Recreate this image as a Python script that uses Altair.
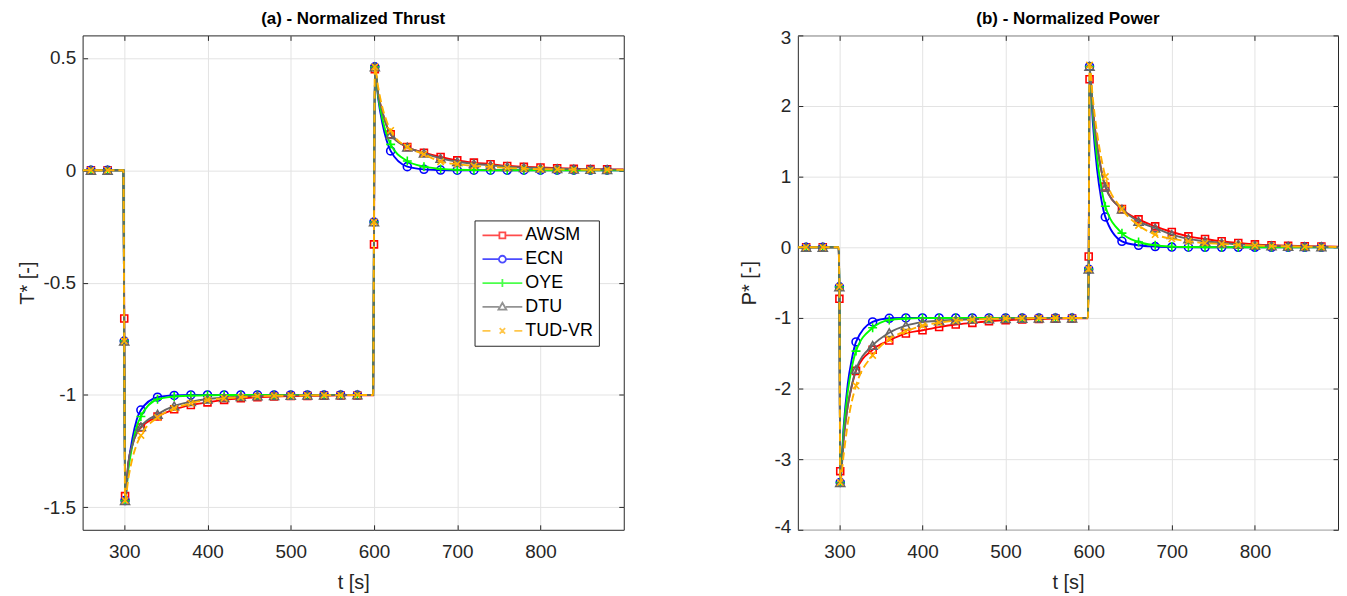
import altair as alt
import pandas as pd

MODELS = ["AWSM", "ECN", "OYE", "DTU", "TUD-VR"]
COLORS = ["#ff0000", "#0000ff", "#00ff00", "#666666", "#ffb000"]

T = [250, 260, 280, 299,
     300, 301, 305, 310, 315,
     320, 340, 360, 380, 400, 420, 440, 460, 480, 500, 520, 540, 560, 580,
     599, 600, 601, 605, 610, 615,
     620, 640, 660, 680, 700, 720, 740, 760, 780, 800, 820, 840, 860, 880, 900]

MARKER_T = [260, 280, 300, 301,
            320, 340, 360, 380, 400, 420, 440, 460, 480, 500, 520, 540, 560, 580,
            600, 601,
            620, 640, 660, 680, 700, 720, 740, 760, 780, 800, 820, 840, 860, 880]

THRUST_AWSM = [0, 0, 0, 0,
               -0.66, -1.45, -1.30, -1.22, -1.17,
               -1.145, -1.096, -1.064, -1.045, -1.033, -1.022, -1.015, -1.010, -1.007, -1.005, -1.004, -1.003, -1.002, -1.002,
               -1.002, -0.33, 0.45, 0.34, 0.26, 0.20,
               0.160, 0.103, 0.078, 0.059, 0.044, 0.034, 0.027, 0.019, 0.015, 0.012, 0.009, 0.007, 0.005, 0.004, 0.003]
THRUST_ECN = [0, 0, 0, 0,
              -0.76, -1.47, -1.31, -1.19, -1.11,
              -1.067, -1.010, -1.002, -1.0, -1.0, -1.0, -1.0, -1.0, -1.0, -1.0, -1.0, -1.0, -1.0, -1.0,
              -1.0, -0.23, 0.46, 0.32, 0.21, 0.135,
              0.086, 0.016, 0.004, 0.001, 0, 0, 0, 0, 0, 0, 0, 0, 0, 0, 0]
THRUST_OYE = [0, 0, 0, 0,
              -0.76, -1.47, -1.33, -1.22, -1.14,
              -1.096, -1.019, -1.007, -1.003, -1.001, -1.0, -1.0, -1.0, -1.0, -1.0, -1.0, -1.0, -1.0, -1.0,
              -1.0, -0.23, 0.46, 0.33, 0.23, 0.16,
              0.115, 0.041, 0.016, 0.006, 0.002, 0.001, 0, 0, 0, 0, 0, 0, 0, 0, 0]
THRUST_DTU = [0, 0, 0, 0,
              -0.76, -1.47, -1.30, -1.22, -1.17,
              -1.141, -1.086, -1.049, -1.030, -1.018, -1.012, -1.007, -1.004, -1.003, -1.002, -1.001, -1.001, -1.0, -1.0,
              -1.0, -0.23, 0.46, 0.34, 0.26, 0.20,
              0.159, 0.103, 0.076, 0.053, 0.038, 0.029, 0.022, 0.016, 0.012, 0.009, 0.007, 0.005, 0.004, 0.003, 0.002]
THRUST_TUD = [0, 0, 0, 0,
              -0.76, -1.47, -1.37, -1.28, -1.22,
              -1.18, -1.10, -1.06, -1.037, -1.022, -1.015, -1.010, -1.006, -1.004, -1.003, -1.002, -1.001, -1.001, -1.0,
              -1.0, -0.23, 0.46, 0.37, 0.28, 0.22,
              0.177, 0.103, 0.071, 0.038, 0.027, 0.019, 0.015, 0.010, 0.007, 0.005, 0.004, 0.003, 0.002, 0.002, 0.001]

POWER_AWSM = [0, 0, 0, 0,
              -0.73, -3.17, -2.70, -2.25, -1.96,
              -1.75, -1.45, -1.32, -1.22, -1.175, -1.13, -1.094, -1.07, -1.047, -1.033, -1.022, -1.015, -1.010, -1.007,
              -1.005, -0.13, 2.38, 1.95, 1.45, 1.10,
              0.86, 0.54, 0.395, 0.296, 0.216, 0.155, 0.118, 0.085, 0.060, 0.042, 0.030, 0.022, 0.016, 0.012, 0.009]
POWER_ECN = [0, 0, 0, 0,
             -0.56, -3.33, -2.56, -1.94, -1.58,
             -1.34, -1.057, -1.005, -1.0, -1.0, -1.0, -1.0, -1.0, -1.0, -1.0, -1.0, -1.0, -1.0, -1.0,
             -1.0, -0.31, 2.56, 1.76, 1.11, 0.69,
             0.43, 0.085, 0.028, 0.010, 0.003, 0.001, 0, 0, 0, 0, 0, 0, 0, 0, 0]
POWER_OYE = [0, 0, 0, 0,
             -0.56, -3.33, -2.62, -2.05, -1.70,
             -1.47, -1.14, -1.03, -1.01, -1.003, -1.001, -1.0, -1.0, -1.0, -1.0, -1.0, -1.0, -1.0, -1.0,
             -1.0, -0.31, 2.56, 1.88, 1.27, 0.86,
             0.58, 0.20, 0.075, 0.028, 0.010, 0.004, 0.001, 0, 0, 0, 0, 0, 0, 0, 0]
POWER_DTU = [0, 0, 0, 0,
             -0.56, -3.33, -2.75, -2.25, -1.95,
             -1.73, -1.39, -1.21, -1.11, -1.06, -1.04, -1.028, -1.018, -1.012, -1.008, -1.005, -1.003, -1.002, -1.001,
             -1.0, -0.31, 2.56, 1.95, 1.45, 1.10,
             0.85, 0.54, 0.367, 0.273, 0.180, 0.120, 0.085, 0.060, 0.042, 0.028, 0.020, 0.014, 0.010, 0.007, 0.005]
POWER_TUD = [0, 0, 0, 0,
             -0.56, -3.33, -2.95, -2.50, -2.18,
             -1.96, -1.53, -1.30, -1.19, -1.11, -1.066, -1.04, -1.025, -1.015, -1.010, -1.006, -1.004, -1.002, -1.001,
             -1.0, -0.31, 2.58, 2.10, 1.62, 1.27,
             1.00, 0.54, 0.31, 0.18, 0.12, 0.085, 0.060, 0.047, 0.033, 0.024, 0.017, 0.012, 0.008, 0.006, 0.004]

THRUST = dict(zip(MODELS, [THRUST_AWSM, THRUST_ECN, THRUST_OYE, THRUST_DTU, THRUST_TUD]))
POWER = dict(zip(MODELS, [POWER_AWSM, POWER_ECN, POWER_OYE, POWER_DTU, POWER_TUD]))

X_TICKS = [300, 400, 500, 600, 700, 800]
THRUST_TICKS = [-1.5, -1, -0.5, 0, 0.5]
POWER_TICKS = [-4, -3, -2, -1, 0, 1, 2, 3]

FONT = "Liberation Sans"
INK = "#262626"
GRID = "#e3e3e3"

MARK_SHAPES = {
    "AWSM": ("square", 49),
    "ECN": ("circle", 64),
    "OYE": ("M-1,0L1,0M0,-1L0,1", 81),
    "DTU": ("triangle-up", 80),
    "TUD-VR": ("M-1,-1L1,1M-1,1L1,-1", 42),
}

LEGEND_PATHS = [
    "M-4,0L-0.6,0M0.6,0L4,0M-0.6,-0.6L0.6,-0.6L0.6,0.6L-0.6,0.6Z",
    "M-4,0L-0.7,0M0.7,0L4,0M-0.7,0A0.7,0.7,0,1,0,0.7,0A0.7,0.7,0,1,0,-0.7,0",
    "M-4,0L4,0M0,-0.8L0,0.8",
    "M-4,0L-0.7,0M0.7,0L4,0M0,-0.85L0.8,0.55L-0.8,0.55Z",
    "M-4,0L-2.4,0M2.4,0L4,0M-0.55,-0.55L0.55,0.55M-0.55,0.55L0.55,-0.55",
]

rows = []
for panel, series in (("thrust", THRUST), ("power", POWER)):
    for m in MODELS:
        for t, v in zip(T, series[m]):
            rows.append({"panel": panel, "model": m, "t": t, "v": v, "marker": t in MARKER_T})
df = pd.DataFrame(rows)

color_scale = alt.Scale(domain=MODELS, range=COLORS)
shape_scale = alt.Scale(domain=MODELS, range=LEGEND_PATHS)
x_scale = alt.Scale(domain=[250, 900], nice=False, zero=False)

legend = alt.Legend(
    title=None, orient="none", legendX=394, legendY=186,
    labelFontSize=18, labelFont=FONT, labelColor="black",
    symbolSize=100, symbolStrokeWidth=1.8, symbolOffset=13, labelOffset=14,
    rowPadding=6, padding=6, strokeColor=INK, fillColor="white",
    symbolFillColor="transparent",
)


def label_axis(axis_title, values, orient, is_y, title_pad=11, flush=False):
    kw = dict(values=values, title=axis_title, grid=True, gridColor=GRID, gridWidth=1,
              domain=False, ticks=True, tickSize=5, offset=-5, tickColor=INK, tickWidth=1,
              labelFont=FONT, labelFontSize=19, labelColor=INK, titleFont=FONT, titleFontSize=20,
              titleFontWeight="normal", titleColor=INK, labelExpr="datum.value + ''", orient=orient,
              titlePadding=title_pad)
    if is_y:
        kw.update(labelPadding=7)
    else:
        kw.update(labelPadding=13)
    if flush:
        kw.update(labelFlush=True, labelFlushOffset=7)
    return alt.Axis(**kw)


def tick_axis(values, orient):
    return alt.Axis(values=values, title=None, grid=False, domain=False, labels=False, ticks=True,
                    tickSize=5, offset=-5, tickColor=INK, tickWidth=1, orient=orient)


def panel(name, series_title, y_title, y_domain, y_ticks, with_legend, y_title_pad, flush, title_offset):
    sub = df[df.panel == name]
    y_scale = alt.Scale(domain=y_domain, nice=False, zero=False)
    layers = []
    for i, m in enumerate(MODELS):
        d = sub[sub.model == m]
        first = i == 0
        last = i == len(MODELS) - 1
        line_kw = dict(interpolate="monotone", strokeWidth=1.9, clip=True, color=COLORS[i])
        if m == "TUD-VR":
            line_kw["strokeDash"] = [8, 4]
        line = alt.Chart(d).mark_line(**line_kw).encode(
            x=alt.X("t:Q", scale=x_scale, axis=label_axis("t [s]", X_TICKS, "bottom", False) if first else None),
            y=alt.Y("v:Q", scale=y_scale,
                    axis=label_axis(y_title, y_ticks, "left", True, y_title_pad, flush) if first else None),
        )
        shape, size = MARK_SHAPES[m]
        pts = alt.Chart(d[d.marker]).mark_point(shape=shape, size=size, filled=False, strokeWidth=1.6,
                                                 color=COLORS[i], opacity=1, clip=True).encode(
            x=alt.X("t:Q", scale=x_scale, axis=tick_axis(X_TICKS, "top") if last else None),
            y=alt.Y("v:Q", scale=y_scale, axis=tick_axis(y_ticks, "right") if last else None),
        )
        layers += [line, pts]
    if with_legend:
        leg = alt.Chart(sub).transform_filter(alt.datum.t < 0).mark_point(filled=False, strokeWidth=1.8).encode(
            x=alt.X("t:Q", scale=x_scale, axis=None),
            y=alt.Y("v:Q", scale=y_scale, axis=None),
            color=alt.Color("model:N", scale=color_scale, legend=legend),
            shape=alt.Shape("model:N", scale=shape_scale, legend=legend),
        )
        layers.append(leg)
    return alt.layer(*layers).resolve_axis(x="independent", y="independent").properties(
        width=544 if name == "thrust" else 543, height=497,
        title=alt.TitleParams(series_title, fontSize=17, font=FONT, fontWeight="bold", color="black",
                              anchor="middle", offset=title_offset),
    )


left = panel("thrust", "(a) - Normalized Thrust", "T* [-]", [-1.6, 0.6], THRUST_TICKS, True, 6, False, 7)
right = panel("power", "(b) - Normalized Power", "P* [-]", [-4, 3], POWER_TICKS, False, 15, True, 0)

chart = alt.hconcat(left, right, spacing=114).configure(
    padding={"left": 8, "top": 0, "right": 0, "bottom": 0},
).configure_view(stroke=INK, strokeWidth=1).configure_legend(cornerRadius=0)

chart.save("out.html", embed_options={"renderer": "svg", "actions": False})
